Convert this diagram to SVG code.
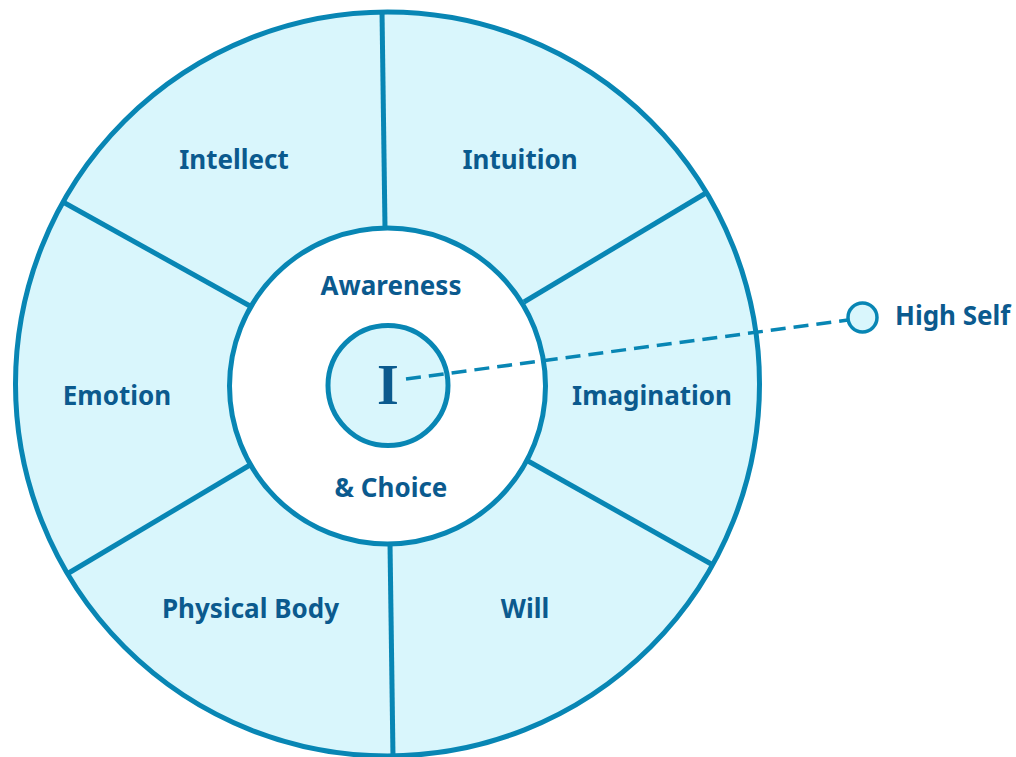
<svg xmlns="http://www.w3.org/2000/svg" width="1016" height="757" viewBox="0 0 1016 757">
  <style>
    .ring { fill: #d9f6fc; stroke: #0886b4; stroke-width: 5; }
    .core { fill: #ffffff; stroke: #0886b4; stroke-width: 5; }
    .divider { stroke: #0886b4; stroke-width: 5; fill: none; stroke-linecap: butt; }
    .self { fill: #d9f6fc; stroke: #0886b4; stroke-width: 5; }
    .link { stroke: #0886b4; stroke-width: 3.5; fill: none; stroke-dasharray: 15 8; }
    .label { font-family: "Noto Sans", "Open Sans", "Liberation Sans", sans-serif; font-weight: 700; font-size: 26px; fill: #0b5a8e; text-anchor: middle; }
    .glyph { font-family: "Liberation Serif", "DejaVu Serif", serif; font-weight: 700; font-size: 56px; fill: #0b5a8e; text-anchor: middle; }
  </style>

  <!-- outer wheel -->
  <g id="wheel">
    <circle class="ring" cx="387.5" cy="384" r="372"/>
  </g>

  <!-- spokes between the six functions -->
  <g id="spokes">
    <line class="divider" x1="382" y1="11" x2="385" y2="228"/>
    <line class="divider" x1="706" y1="193" x2="524" y2="302"/>
    <line class="divider" x1="713" y1="565" x2="528" y2="461"/>
    <line class="divider" x1="390" y1="543" x2="393" y2="757"/>
    <line class="divider" x1="67" y1="574" x2="250" y2="465"/>
    <line class="divider" x1="63" y1="202" x2="250" y2="306"/>
  </g>

  <!-- awareness & choice centre -->
  <g id="awareness">
    <circle class="core" cx="387.5" cy="386" r="158"/>
    <text class="label" x="391" y="295">Awareness</text>
    <text class="label" x="391" y="497">&amp; Choice</text>
  </g>

  <g id="intellect"><text class="label" x="234" y="169">Intellect</text></g>
  <g id="intuition"><text class="label" x="520" y="169">Intuition</text></g>
  <g id="emotion"><text class="label" x="117" y="405">Emotion</text></g>
  <g id="imagination"><text class="label" x="652" y="405">Imagination</text></g>
  <g id="physical-body"><text class="label" x="250.5" y="618">Physical Body</text></g>
  <g id="will"><text class="label" x="525" y="618">Will</text></g>

  <!-- the personal self -->
  <g id="i-self">
    <circle class="self" cx="388" cy="385.5" r="60"/>
    <text class="glyph" x="388" y="404">I</text>
  </g>

  <!-- link to the higher self -->
  <g id="connectors">
    <line class="link" x1="406" y1="379" x2="848" y2="320"/>
  </g>

  <g id="high-self">
    <circle cx="862.5" cy="317.5" r="14.5" fill="#d9f6fc" stroke="#0886b4" stroke-width="3.5"/>
    <text class="label" x="895" y="325" style="text-anchor:start">High Self</text>
  </g>
</svg>
